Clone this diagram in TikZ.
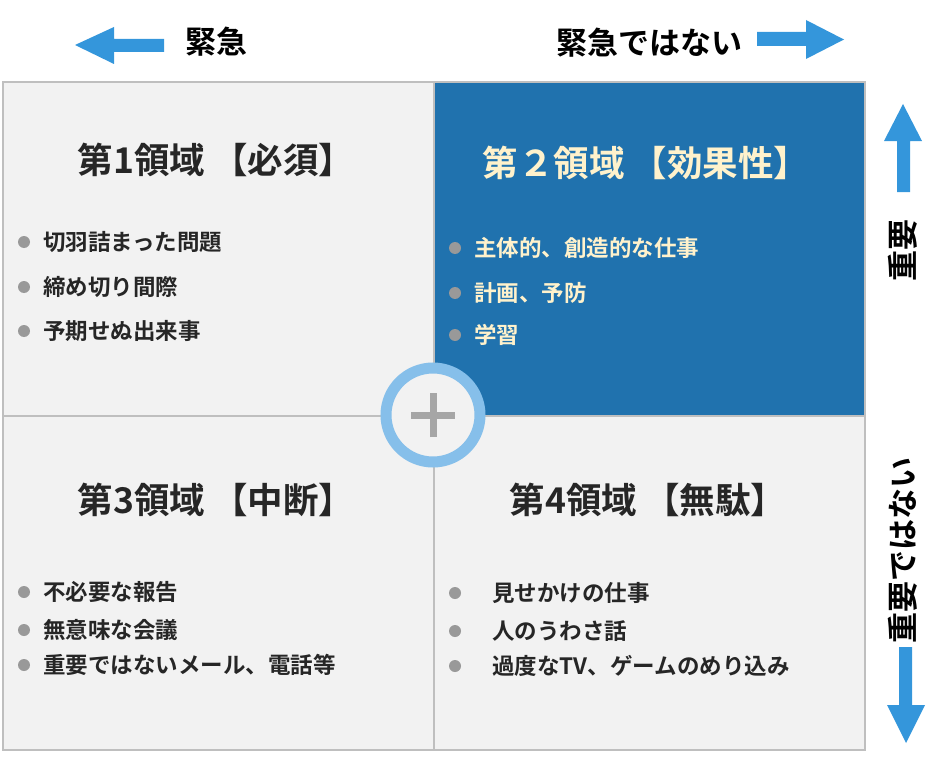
\documentclass[tikz,border=0pt]{standalone}
\usepackage{fontspec}
\setmainfont{Noto Sans CJK JP}[BoldFont={Noto Sans CJK JP Bold}]
\definecolor{qgray}{RGB}{242,242,242}
\definecolor{bordergray}{RGB}{191,191,191}
\definecolor{qblue}{RGB}{32,114,174}
\definecolor{arrowblue}{RGB}{52,150,219}
\definecolor{ringblue}{RGB}{134,191,234}
\definecolor{plusgray}{RGB}{166,166,166}
\definecolor{bulletgray}{RGB}{153,153,153}
\definecolor{darktext}{RGB}{38,38,38}
\definecolor{cream}{RGB}{255,242,204}
\tikzset{
  quad/.style={draw=bordergray, line width=2pt, fill=qgray, anchor=north west, inner sep=0pt,
    minimum width=431pt, minimum height=334pt},
  quadblue/.style={quad, fill=qblue},
  title/.style={font=\bfseries\fontsize{35.5}{40}\selectfont, text=darktext, inner sep=0pt},
  titleb/.style={title, text=cream},
  item/.style={font=\bfseries\fontsize{22.5}{27}\selectfont, text=darktext, anchor=west, inner sep=0pt},
  itemb/.style={item, text=cream},
  bulletdot/.style={circle, fill=bulletgray, minimum size=12pt, inner sep=0pt},
  axislabel/.style={font=\bfseries\fontsize{31}{35}\selectfont, text=black, inner sep=0pt},
  arrowfill/.style={fill=arrowblue},
}
\begin{document}
\begin{tikzpicture}[x=1pt,y=-1pt]
\useasboundingbox (0,0) rectangle (946,784);
% quadrants
\node[quad] (q1) at (2,81) {};
\node[quadblue] (q2) at (433,81) {};
\node[quad] (q3) at (2,415) {};
\node[quad] (q4) at (433,415) {};
% hub
\node[circle, draw=ringblue, line width=11pt, fill=qgray, minimum size=94pt, inner sep=0pt] (hub) at (433,415) {};
\draw[plusgray, line width=7pt] ([xshift=-22pt]hub.center) -- ([xshift=22pt]hub.center);
\draw[plusgray, line width=7pt] ([yshift=-22pt]hub.center) -- ([yshift=22pt]hub.center);
% titles
\node[title] (t1) at (216,160) {第1領域\hspace{0.2em}【必須】};
\node[titleb] (t2) at (646,163) {第２領域\hspace{0.2em}【効果性】};
\node[title] (t3) at (216,500) {第3領域\hspace{0.2em}【中断】};
\node[title] (t4) at (648,500) {第4領域\hspace{0.2em}【無駄】};
% Q1 items
\node[bulletdot] (b11) at (24,242) {};
\node[item] (i11) at (43,242) {切羽詰まった問題};
\node[bulletdot] (b12) at (24,287) {};
\node[item] (i12) at (43,287) {締め切り間際};
\node[bulletdot] (b13) at (24,331) {};
\node[item] (i13) at (43,331) {予期せぬ出来事};
% Q2 items
\node[bulletdot] (b21) at (455,248) {};
\node[itemb] (i21) at (474,248) {主体的、創造的な仕事};
\node[bulletdot] (b22) at (455,293) {};
\node[itemb] (i22) at (474,293) {計画、予防};
\node[bulletdot] (b23) at (455,335) {};
\node[itemb] (i23) at (474,335) {学習};
% Q3 items
\node[bulletdot] (b31) at (24,592) {};
\node[item] (i31) at (43,592) {不必要な報告};
\node[bulletdot] (b32) at (24,630) {};
\node[item] (i32) at (43,630) {無意味な会議};
\node[bulletdot] (b33) at (24,665) {};
\node[item] (i33) at (43,665) {重要ではないメール、電話等};
% Q4 items
\node[bulletdot] (b41) at (455,593) {};
\node[item] (i41) at (492,593) {見せかけの仕事};
\node[bulletdot] (b42) at (455,631) {};
\node[item] (i42) at (492,631) {人のうわさ話};
\node[bulletdot] (b43) at (455,666) {};
\node[item] (i43) at (492,666) {過度なTV、ゲームのめり込み};
% axis labels
\node[axislabel, anchor=west] (urgent) at (185,42) {緊急};
\node[axislabel, anchor=east] (noturgent) at (743,43) {緊急ではない};
\node[axislabel, rotate=90] (important) at (903,250) {重要};
\node[axislabel, rotate=90] (notimportant) at (903,550) {重要ではない};
% arrows
\fill[arrowfill] (75,45) -- (114,27) -- (114,39) -- (164,39) -- (164,52) -- (114,52) -- (114,64) -- cycle;
\fill[arrowfill] (757,32) -- (806,32) -- (806,20) -- (844,39.5) -- (806,59) -- (806,46) -- (757,46) -- cycle;
\fill[arrowfill] (903,104) -- (922,141) -- (910,141) -- (910,192) -- (897,192) -- (897,141) -- (884,141) -- cycle;
\fill[arrowfill] (899,647) -- (912,647) -- (912,705) -- (925,705) -- (906,743) -- (887,705) -- (899,705) -- cycle;
\end{tikzpicture}
\end{document}
